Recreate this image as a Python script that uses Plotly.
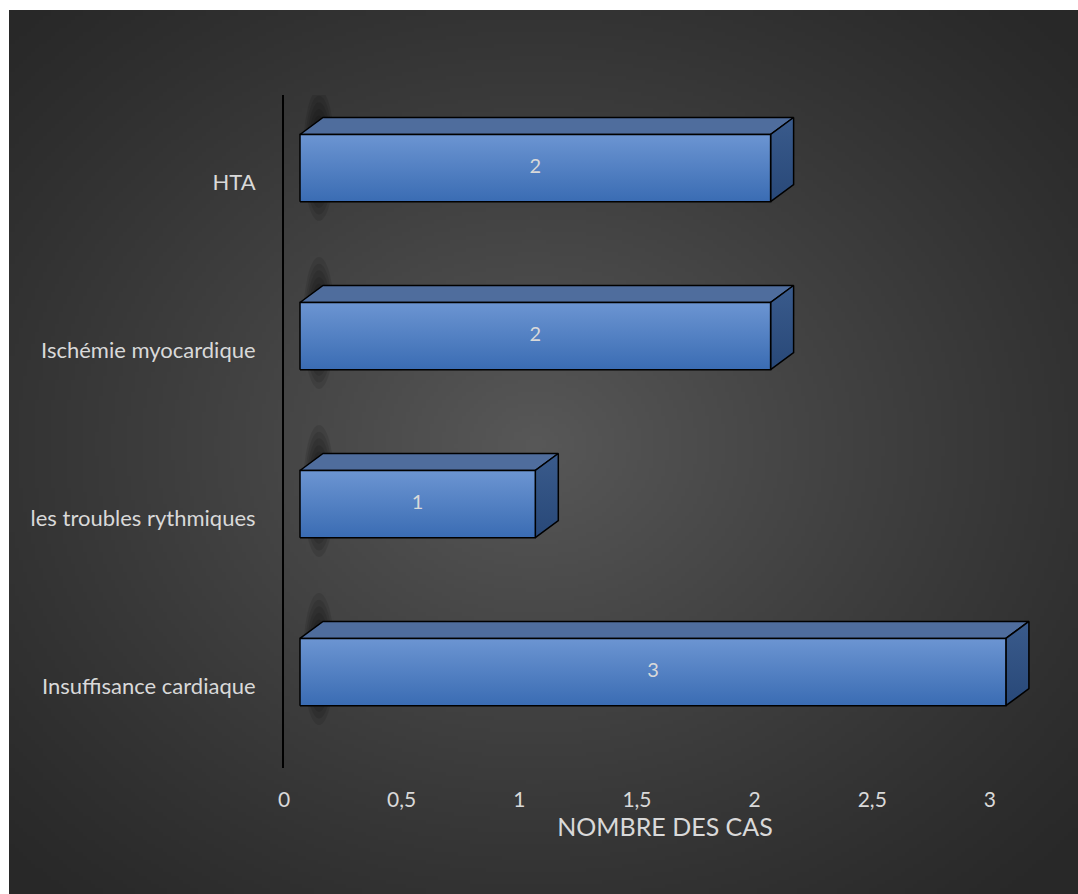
import base64
import struct
import zlib

import numpy as np
import plotly.graph_objects as go

# ---- data -------------------------------------------------------------
categories = ["Insuffisance cardiaque", "les troubles rythmiques",
              "Ischémie myocardique", "HTA"]
cases = [3, 1, 2, 2]
x_tick_vals = [0, 0.5, 1, 1.5, 2, 2.5, 3]
x_tick_text = ["0", "0,5", "1", "1,5", "2", "2,5", "3"]

# ---- geometry ---------------------------------------------------------
W, H = 1078, 894
ML, MR, MT, MB = 284, 32, 95, 126
PW, PH = W - ML - MR, H - MT - MB
PX_X = 235.3          # pixels per unit on x
PX_Y = PH / 4.006     # pixels per category slot
x0 = -16 / PX_X
x_range = [x0, x0 + PW / PX_X]
y_range = [-0.571, -0.571 + PH / PX_Y]

DX = 23 / PX_X        # 3D depth, x
DY = 17 / PX_Y        # 3D depth, y
HALF = 0.2            # half bar thickness

TXT = "#d9d9d9"
FONT = "Lato"


def gradient_png(w, h):
    """Radial dark-grey background as a data URI."""
    yy, xx = np.mgrid[0:h, 0:w]
    cx, cy = w * 0.49, h * 0.49
    r = np.sqrt(((xx - cx) / cx) ** 2 + ((yy - cy) / cy) ** 2) / np.sqrt(2)
    v = 40 + 48 * np.clip(1 - r, 0, 1) ** 1.15
    img = np.clip(v, 0, 255).astype(np.uint8)
    raw = b"".join(b"\x00" + np.repeat(row[:, None], 3, axis=1).tobytes()
                   for row in img)

    def chunk(tag, data):
        c = struct.pack(">I", len(data)) + tag + data
        return c + struct.pack(">I", zlib.crc32(tag + data) & 0xFFFFFFFF)

    png = (b"\x89PNG\r\n\x1a\n"
           + chunk(b"IHDR", struct.pack(">IIBBBBB", w, h, 8, 2, 0, 0, 0))
           + chunk(b"IDAT", zlib.compress(raw, 9))
           + chunk(b"IEND", b""))
    return "data:image/png;base64," + base64.b64encode(png).decode()


fig = go.Figure()
shapes = []

for i, v in enumerate(cases):
    c = i
    lo, hi = c - HALF, c + HALF

    # soft shadow at the left end of each box
    for k in range(8):
        s = 1 - k * 0.1
        shapes.append(dict(
            type="circle", layer="below",
            xref="x", yref="y", xsizemode="pixel", ysizemode="pixel",
            xanchor=0, yanchor=c,
            x0=19 - 16 * s, x1=19 + 16 * s,
            y0=13 - 66 * s, y1=13 + 66 * s,
            fillcolor="black", opacity=0.1, line=dict(width=0)))

    # top face
    fig.add_trace(go.Scatter(
        x=[0, v, v + DX, DX, 0], y=[hi, hi, hi + DY, hi + DY, hi],
        mode="lines", fill="toself", fillcolor="#4f6d9d",
        line=dict(color="black", width=1.5), hoverinfo="skip",
        showlegend=False))
    # right side face
    fig.add_trace(go.Scatter(
        x=[v, v + DX, v + DX, v, v], y=[lo, lo + DY, hi + DY, hi, lo],
        mode="lines", fill="toself",
        fillgradient=dict(type="vertical",
                          colorscale=[[0, "#284878"], [1, "#3a5b8c"]]),
        line=dict(color="black", width=1.5), hoverinfo="skip",
        showlegend=False))
    # front face
    fig.add_trace(go.Scatter(
        x=[0, v, v, 0, 0], y=[lo, lo, hi, hi, lo],
        mode="lines", fill="toself",
        fillgradient=dict(type="vertical",
                          colorscale=[[0, "#3a6cb3"], [1, "#6c95d2"]]),
        line=dict(color="black", width=1.5),
        name=categories[i], hovertemplate="%{fullData.name}: " + str(v)
        + "<extra></extra>", showlegend=False))

# value labels
fig.add_trace(go.Scatter(
    x=[v / 2 for v in cases], y=list(range(len(cases))),
    mode="text", text=[str(v) for v in cases],
    textfont=dict(family=FONT, size=20, color=TXT),
    hoverinfo="skip", showlegend=False))

fig.update_layout(
    width=W, height=H,
    margin=dict(l=ML, r=MR, t=MT, b=MB, pad=0),
    paper_bgcolor="white", plot_bgcolor="rgba(0,0,0,0)",
    shapes=shapes,
    images=[dict(
        source=gradient_png(268, 221), xref="paper", yref="paper",
        x=(9 - ML) / PW, y=(H - MB - 10) / PH,
        sizex=(W - 9) / PW, sizey=(H - 10) / PH,
        xanchor="left", yanchor="top", sizing="stretch", layer="below")],
    font=dict(family=FONT, color=TXT),
    xaxis=dict(
        range=x_range, showgrid=False, zeroline=False, showline=False,
        tickvals=x_tick_vals, ticktext=x_tick_text, ticks="",
        ticklabelshift=-16, ticklabelstandoff=17,
        tickfont=dict(family=FONT, size=21, color=TXT),
        title=dict(text="NOMBRE DES CAS", standoff=2,
                   font=dict(family=FONT, size=25, color=TXT))),
    yaxis=dict(
        range=y_range, showgrid=False, zeroline=False,
        showline=True, linecolor="black", linewidth=2,
        tickvals=list(range(len(categories))), ticktext=categories,
        ticks="", ticklabelstandoff=22, ticklabelshift=14,
        tickfont=dict(family=FONT, size=22, color=TXT)),
)

fig.write_html("out.html")
